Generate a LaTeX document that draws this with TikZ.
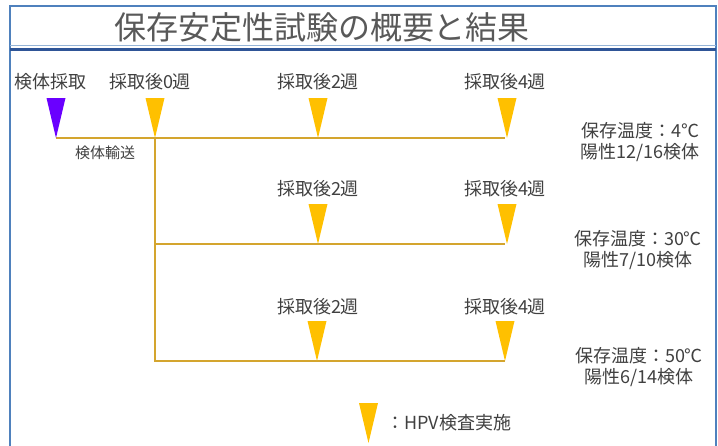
\documentclass[tikz,border=0pt]{standalone}
\usepackage{fontspec}
\setmainfont{Noto Sans CJK JP}
\definecolor{frameblue}{HTML}{4F81BD}
\definecolor{darkblue}{HTML}{2F5597}
\definecolor{lineclr}{HTML}{D4A52E}
\definecolor{ylw}{HTML}{FFC000}
\definecolor{purp}{HTML}{6A00FF}
\definecolor{txt}{HTML}{404040}
\definecolor{titletxt}{HTML}{595959}
\tikzset{
  tri/.pic={\fill[#1] (-9.5,-40) -- (9.5,-40) -- (0,0) -- cycle;},
  lbl/.style={text=txt, font=\fontsize{18}{21}\selectfont, inner sep=0pt, align=center},
  small/.style={text=txt, font=\fontsize{15}{18}\selectfont, inner sep=0pt},
  conn/.style={draw=lineclr, line width=2.5pt}
}
\begin{document}
\begin{tikzpicture}[x=1pt,y=-1pt]
\useasboundingbox (0,0) rectangle (718,445);
% frame
\draw[frameblue, line width=2pt] (10,446) -- (10,6) -- (716,6) -- (716,446);
\draw[frameblue!60, line width=1pt] (10,45.5) -- (716,45.5);
\draw[darkblue, line width=3pt] (10,49.5) -- (716,49.5);
\node[text=titletxt, font=\fontsize{32}{34}\selectfont, inner sep=0pt] (title) at (322,27) {保存安定性試験の概要と結果};
% coordinates
\coordinate (s0) at (56,138);
\coordinate (a0) at (155,138);
\coordinate (a2) at (318,138);
\coordinate (a4) at (507,138);
\coordinate (aend) at (505,138);
\coordinate (b0) at (155,244);
\coordinate (b2) at (318,244);
\coordinate (b4) at (507,244);
\coordinate (bend) at (505,244);
\coordinate (c0) at (155,361);
\coordinate (c2) at (317,361);
\coordinate (c4) at (505,361);
\coordinate (leg) at (368.5,443);
% connectors
\draw[conn] (s0) -- (aend);
\draw[conn] (a0) -- (c0) -- (c4);
\draw[conn] (b0) -- (bend);
% triangles
\pic at (s0) {tri=purp};
\pic at (a0) {tri=ylw};
\pic at (a2) {tri=ylw};
\pic at (a4) {tri=ylw};
\pic at (b2) {tri=ylw};
\pic at (b4) {tri=ylw};
\pic at (c2) {tri=ylw};
\pic at (c4) {tri=ylw};
\pic at (leg) {tri=ylw};
% labels
\node[lbl] (l1) at (51,82) {検体採取};
\node[lbl] (l2) at (150,82) {採取後0週};
\node[lbl] (l3) at (318,82) {採取後2週};
\node[lbl] (l4) at (505,82) {採取後4週};
\node[small] (tr) at (105,153) {検体輸送};
\node[lbl] (r1) at (640,142) {保存温度：4℃\\陽性12/16検体};
\node[lbl] (l5) at (318,189) {採取後2週};
\node[lbl] (l6) at (505,189) {採取後4週};
\node[lbl] (r2) at (638,250) {保存温度：30℃\\陽性7/10検体};
\node[lbl] (l7) at (318,307) {採取後2週};
\node[lbl] (l8) at (505,307) {採取後4週};
\node[lbl] (r3) at (639,367) {保存温度：50℃\\陽性6/14検体};
\node[lbl, anchor=west] (lg) at (386,423) {：HPV検査実施};
\end{tikzpicture}
\end{document}
